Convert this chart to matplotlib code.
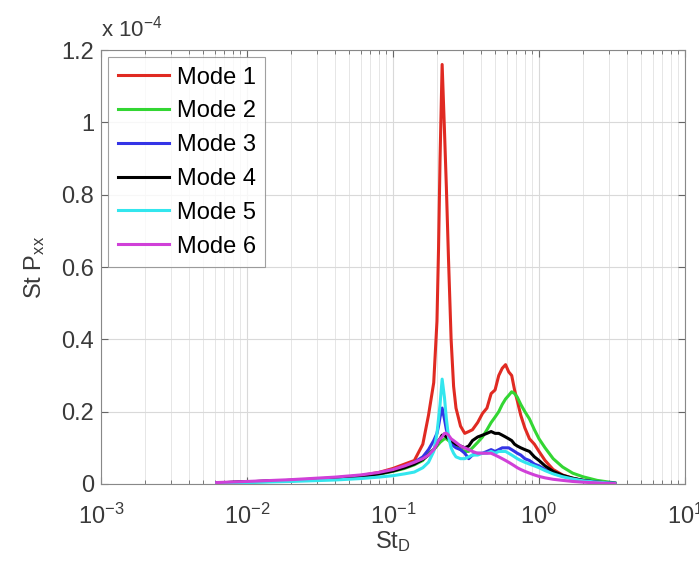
import numpy as np
import matplotlib
matplotlib.use("Agg")
import matplotlib.pyplot as plt
from matplotlib.ticker import LogLocator, FixedLocator, NullFormatter

plt.rcParams['font.family'] = ['Liberation Sans', 'DejaVu Sans']
plt.rcParams['mathtext.default'] = 'regular'

# Strouhal number grid (St_D)
st = [0.0062, 0.01, 0.02, 0.04, 0.06, 0.08, 0.1, 0.12, 0.14, 0.16,
      0.175, 0.19, 0.2, 0.205, 0.21, 0.217, 0.225, 0.232, 0.24, 0.25,
      0.26, 0.27, 0.29, 0.31, 0.33, 0.35, 0.38, 0.41, 0.44, 0.47,
      0.5, 0.53, 0.56, 0.59, 0.62, 0.65, 0.68, 0.71, 0.75, 0.8,
      0.86, 0.93, 1.0, 1.1, 1.25, 1.45, 1.7, 2.0, 2.5, 3.3]

# St*Pxx, units of 1e-6
mode1 = [0.3, 0.6, 1.0, 1.7, 2.3, 3.2, 4.3, 5.5, 6.5, 11,
         19, 28, 45, 65, 90, 116, 98, 82, 62, 40,
         27, 21, 16, 14, 14.5, 15, 17, 19.5, 21, 25,
         26, 30, 32, 33, 31, 30, 26, 23, 19, 15.5,
         12.5, 11, 9, 6.5, 4, 2.5, 1.6, 1.0, 0.5, 0.2]
mode2 = [0.3, 0.5, 0.9, 1.5, 2.0, 2.7, 3.5, 4.3, 5.3, 6.5,
         8.5, 9.5, 10.5, 11, 11.5, 12, 12.5, 12.5, 12, 11.5,
         11, 10.5, 9.5, 9, 9, 10, 11.5, 13, 15, 17,
         18.5, 20, 22, 23.5, 24.5, 25.5, 25, 24, 22, 20,
         18, 15, 12.5, 10, 7, 4.7, 3, 2, 1, 0.3]
mode3 = [0.3, 0.6, 1.0, 1.6, 2.2, 2.9, 3.8, 4.8, 6, 7.5,
         9.5, 12, 14, 16, 18.5, 21, 18, 15, 13, 11.5,
         10.5, 10, 9.5, 8.5, 7, 8, 8.5, 8.5, 9, 9.5,
         9, 9.5, 10, 10, 10, 9.5, 9, 8.5, 8, 7,
         6.5, 5.5, 5, 4, 3, 2.2, 1.5, 1.0, 0.5, 0.2]
mode4 = [0.3, 0.6, 1.0, 1.6, 2.1, 2.8, 3.6, 4.5, 5.5, 6.8,
         8, 9.5, 11, 12, 12.5, 13.5, 13.5, 13, 12.5, 12,
         11.5, 11, 10.5, 10, 10.5, 12, 13, 13.5, 14, 14.5,
         14, 14, 13.5, 13, 12.5, 12, 11, 10.5, 10, 9.5,
         9, 7.5, 6.5, 5, 3.5, 2.4, 1.6, 1.0, 0.5, 0.2]
mode5 = [0.2, 0.4, 0.7, 1.1, 1.5, 1.9, 2.3, 2.8, 3.3, 4.5,
         6, 9, 14, 18, 22, 29, 24, 18, 13, 10,
         8.5, 7.5, 7, 7, 7.5, 8, 8, 8.5, 8.5, 9,
         8.5, 9, 9, 9, 8.5, 8, 7.5, 7, 6.5, 6,
         5.5, 5, 4.5, 3.7, 2.8, 2.0, 1.4, 0.9, 0.5, 0.2]
mode6 = [0.4, 0.7, 1.2, 1.9, 2.5, 3.2, 4.0, 5, 6, 7,
         8, 9.5, 11, 12, 12.5, 13, 14, 14, 13.5, 12.5,
         12, 11.5, 10.5, 10, 9.5, 9, 8.5, 8.5, 8.5, 8.5,
         8, 7.5, 7, 6.5, 6, 5.5, 5, 4.5, 4, 3.5,
         3, 2.5, 2.1, 1.7, 1.3, 1.0, 0.7, 0.5, 0.3, 0.1]

labels = ['Mode 1', 'Mode 2', 'Mode 3', 'Mode 4', 'Mode 5', 'Mode 6']
colors = ['#e02a22', '#33d633', '#3434e6', '#000000', '#33e6ee', '#d040d8']
series = [mode1, mode2, mode3, mode4, mode5, mode6]
ytick_vals = [0, 0.2, 0.4, 0.6, 0.8, 1.0, 1.2]
ytick_labels = ['0', '0.2', '0.4', '0.6', '0.8', '1', '1.2']

fig = plt.figure(figsize=(6.99, 5.67), dpi=100)
ax = fig.add_axes([0.1445, 0.1464, 0.8355, 0.7654])

for vals, lab, col in zip(series, labels, colors):
    ax.plot(st, np.array(vals) / 100.0, color=col, lw=2.2, label=lab)

ax.set_xscale('log')
ax.set_xlim(1e-3, 1e1)
ax.set_ylim(0, 1.2)
ax.yaxis.set_major_locator(FixedLocator(ytick_vals))
ax.set_yticklabels(ytick_labels)
ax.xaxis.set_major_locator(LogLocator(base=10, numticks=10))
ax.xaxis.set_minor_locator(LogLocator(base=10, subs=np.arange(2, 10), numticks=20))
ax.xaxis.set_minor_formatter(NullFormatter())

ax.grid(True, which='major', color='#d9d9d9', lw=0.8)
ax.grid(True, which='minor', axis='x', color='#e6e6e6', lw=0.7)
ax.set_axisbelow(True)
ax.tick_params(which='both', direction='in', top=True, right=True,
               labelsize=17, colors='#666666', labelcolor='#3a3a3a')
ax.tick_params(axis='x', which='major', pad=14)
ax.tick_params(axis='y', which='major', pad=5)
ax.tick_params(which='major', length=5)
ax.tick_params(which='minor', length=3)
for s in ax.spines.values():
    s.set_color('#888888')

ax.set_xlabel('St$_D$', fontsize=17, color='#3a3a3a', labelpad=0)
ax.set_ylabel('St P$_{xx}$', fontsize=17, color='#3a3a3a', labelpad=10)
ax.text(0.0, 1.02, r'x 10$^{-4}$', transform=ax.transAxes, fontsize=16,
        color='#3a3a3a', ha='left', va='bottom')

leg = ax.legend(loc='upper left', fontsize=17, frameon=True, fancybox=False,
                borderaxespad=0.3, handlelength=2.2, handletextpad=0.3,
                labelspacing=0.5, borderpad=0.4)
leg.get_frame().set_edgecolor('#888888')
leg.get_frame().set_linewidth(0.8)

fig.savefig('out.png', dpi=100)
